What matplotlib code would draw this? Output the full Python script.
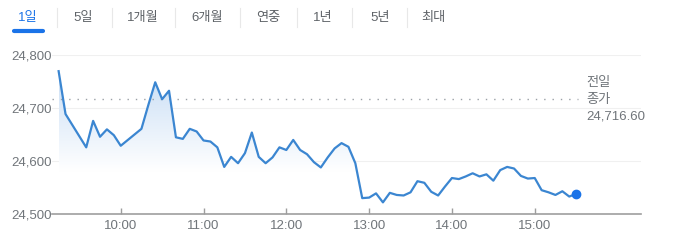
import matplotlib
matplotlib.use("Agg")
import matplotlib.pyplot as plt
import numpy as np
from matplotlib.patches import Polygon
from matplotlib.lines import Line2D
from matplotlib.colors import LinearSegmentedColormap

plt.rcParams['font.family'] = ['Liberation Sans', 'Noto Sans CJK KR', 'DejaVu Sans']

# minutes since midnight
times = [555, 560, 575, 580, 585, 590, 595, 600, 615, 620, 625, 630, 635, 640, 645,
         650, 655, 660, 665, 670, 675, 680, 685, 690, 695, 700, 705, 710, 715, 720,
         725, 730, 735, 740, 745, 750, 755, 760, 765, 770, 775, 780, 785, 790, 795,
         800, 805, 810, 815, 820, 825, 830, 835, 840, 845, 850, 855, 860, 865, 870,
         875, 880, 885, 890, 895, 900, 905, 910, 915, 920, 925, 930]
values = [24770, 24689, 24626, 24676, 24646, 24660, 24649, 24629, 24661, 24706,
          24749, 24717, 24733, 24645, 24642, 24661, 24656, 24639, 24637, 24626,
          24589, 24608, 24596, 24615, 24654, 24608, 24596, 24607, 24626, 24621,
          24640, 24621, 24613, 24598, 24588, 24607, 24624, 24634, 24627, 24596,
          24530, 24531, 24539, 24522, 24540, 24536, 24535, 24541, 24562, 24559,
          24542, 24535, 24552, 24568, 24566, 24571, 24577, 24571, 24575, 24563,
          24583, 24589, 24586, 24572, 24567, 24568, 24545, 24541, 24536, 24543,
          24533, 24538]
prev_close = 24716.60
y_ticks = [24500, 24600, 24700, 24800]
y_labels = ["24,500", "24,600", "24,700", "24,800"]
x_ticks = [600, 660, 720, 780, 840, 900]
x_labels = ["10:00", "11:00", "12:00", "13:00", "14:00", "15:00"]
tabs = ["1일", "5일", "1개월", "6개월", "연중", "1년", "5년", "최대"]
tab_x = [28, 83, 143, 207, 268, 323, 380, 433]
sep_x = [57, 112, 175, 240, 297, 352, 407]

W, H = 680, 247
fig = plt.figure(figsize=(W / 100, H / 100), dpi=100)
ax_l, ax_r, ax_b, ax_t = 52, 641, 214, 55.3
ax = fig.add_axes([ax_l / W, (H - ax_b) / H, (ax_r - ax_l) / W, (ax_b - ax_t) / H])
x0, x1 = 550.2, 977
ax.set_xlim(x0, x1)
ax.set_ylim(24500, 24800)

line_c = '#3b86d1'
xs = np.array(times)
ys = np.array(values)
poly = Polygon(np.column_stack([np.r_[xs, xs[-1], xs[0]], np.r_[ys, 24500, 24500]]),
               closed=True, facecolor='none', edgecolor='none')
ax.add_patch(poly)
grad = np.linspace(0, 1, 256).reshape(-1, 1)
cmap = LinearSegmentedColormap.from_list('g', [(0, '#ffffff'), (0.3, '#ffffff'), (1, '#c9def5')])
img = ax.imshow(grad, extent=[xs[0], xs[-1], 24500, 24770], origin='lower',
                aspect='auto', cmap=cmap, zorder=1)
img.set_clip_path(poly)

ax.plot(times, values, color=line_c, lw=1.6, zorder=3, solid_joinstyle='round')
ax.plot([times[-1]], [values[-1]], 'o', color='#1a73e8', ms=6, zorder=4)

for yt in y_ticks[1:]:
    ax.axhline(yt, color='#f0f0f0', lw=0.8, zorder=0)
x_end = x0 + (578 - ax_l) / (ax_r - ax_l) * (x1 - x0)
ax.plot([x0, x_end], [prev_close, prev_close], color='#9aa0a6', lw=1.0,
        ls=(0, (1, 5)), zorder=2)

for s in ['top', 'right', 'left']:
    ax.spines[s].set_visible(False)
ax.spines['bottom'].set_color('#9e9e9e')
ax.spines['bottom'].set_linewidth(1.2)
ax.set_yticks(y_ticks)
ax.set_yticklabels(y_labels)
ax.set_xticks(x_ticks)
ax.set_xticklabels(x_labels)
ax.tick_params(axis='y', length=0, pad=0, labelsize=9.5, labelcolor='#70757a')
ax.tick_params(axis='x', length=4, width=1, color='#9e9e9e', direction='in',
               pad=4, labelsize=9.5, labelcolor='#70757a')

ax.text((586 - ax_l) / (ax_r - ax_l), (ax_b - 100) / (ax_b - ax_t),
        "전일\n종가\n24,716.60",
        transform=ax.transAxes, ha='left', va='center', fontsize=9.5,
        color='#70757a', linespacing=1.55)

for t, x in zip(tabs, tab_x):
    fig.text(x / W, 1 - 18 / H, t, ha='center', va='center', fontsize=9.5,
             color='#1a73e8' if t == "1일" else '#5f6368')
for x in sep_x:
    fig.add_artist(Line2D([x / W, x / W], [1 - 8 / H, 1 - 27 / H], color='#e8e8e8', lw=0.8))
fig.add_artist(Line2D([14 / W, 43 / W], [1 - 31 / H, 1 - 31 / H], color='#1a73e8',
                      lw=3, solid_capstyle='round'))

fig.savefig('out.png', dpi=100)
